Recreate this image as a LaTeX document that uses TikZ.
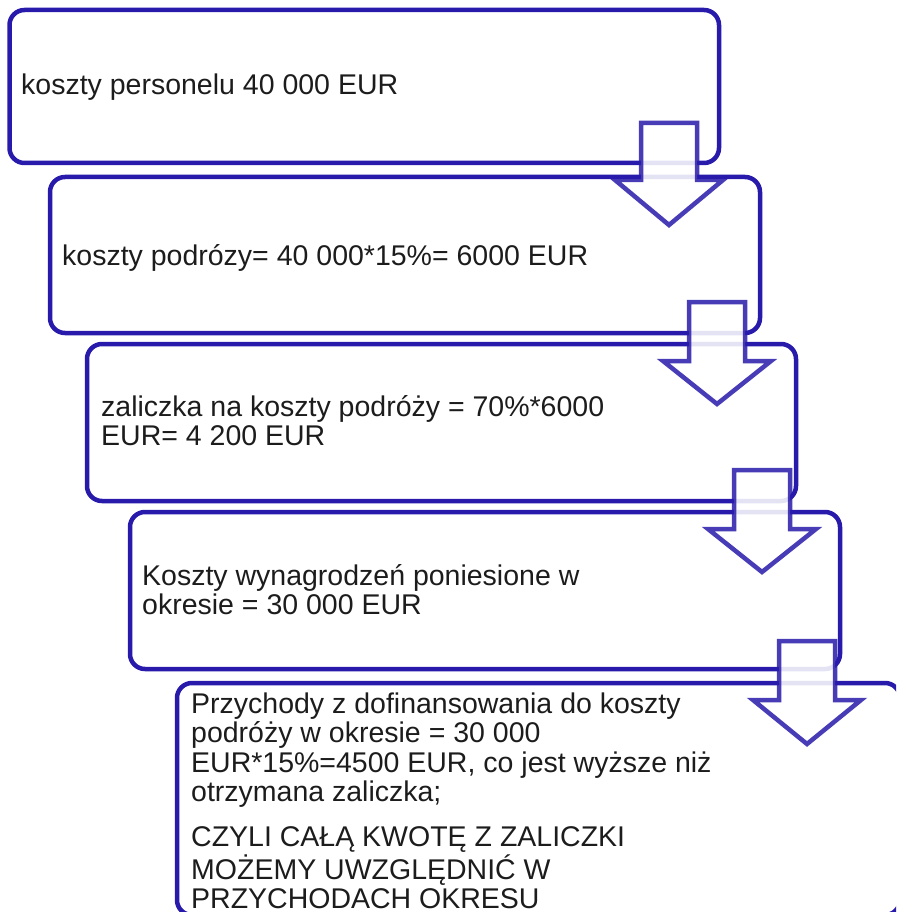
\documentclass[tikz,border=0pt]{standalone}
\usepackage{fontspec}
\setmainfont{Liberation Sans}
\definecolor{bl}{RGB}{40,26,170}
\definecolor{txtc}{RGB}{28,28,28}
\newcommand\blockarr[4]{%
  \draw[blockarrow] ({#1-28},#2) -- ({#1+28},#2) -- ({#1+28},#3) -- ({#1+54},#3)
    -- (#1,#4) -- ({#1-54},#3) -- ({#1-28},#3) -- cycle;}
\newcommand\lines[1]{\begin{tabular}[t]{@{}l@{}}#1\end{tabular}}
\begin{document}
\begin{tikzpicture}[x=1pt,y=-1pt,
  box/.style={draw=bl, line width=4.5pt, rounded corners=15pt, inner sep=0pt, outer sep=0pt, anchor=north west},
  txt/.style={anchor=base west, inner sep=0pt, font=\fontsize{28.5}{29}\selectfont, text=txtc},
  blockarrow/.style={draw=bl, draw opacity=0.85, fill=white, fill opacity=0.88, line width=4.5pt, line join=miter}]
\useasboundingbox (0,0) rectangle (896,912);
\clip (0,0) rectangle (896,912);
% boxes
\node[box, minimum width=709.5pt, minimum height=153pt] (b1) at (9.5,10) {};
\node[box, minimum width=710pt, minimum height=156pt] (b2) at (50,177) {};
\node[box, minimum width=709pt, minimum height=157pt] (b3) at (87,344) {};
\node[box, minimum width=710pt, minimum height=157pt] (b4) at (130,512) {};
\node[box, minimum width=723pt, minimum height=232pt] (b5) at (177,683) {};
% texts
\node[txt] (t1) at (21,95) {koszty personelu 40 000 EUR};
\node[txt] (t2) at (62,265) {koszty podrózy= 40 000*15\%= 6000 EUR};
\node[txt] (t3) at (101,416) {\lines{zaliczka na koszty podróży = 70\%*6000\\EUR= 4 200 EUR}};
\node[txt] (t4) at (142,585) {\lines{Koszty wynagrodzeń poniesione w\\okresie = 30 000 EUR}};
\node[txt] (t5) at (191,713) {\lines{Przychody z dofinansowania do koszty\\podróży w okresie = 30 000\\EUR*15\%=4500 EUR, co jest wyższe niż\\otrzymana zaliczka;\\[16pt]CZYLI CAŁĄ KWOTĘ Z ZALICZKI\\MOŻEMY UWZGLĘDNIĆ W\\PRZYCHODACH OKRESU}};
% block arrows
\blockarr{669}{123}{180}{225}
\blockarr{717}{302}{361}{404}
\blockarr{762}{470}{529}{572}
\blockarr{807}{641}{700}{744}
\end{tikzpicture}
\end{document}
